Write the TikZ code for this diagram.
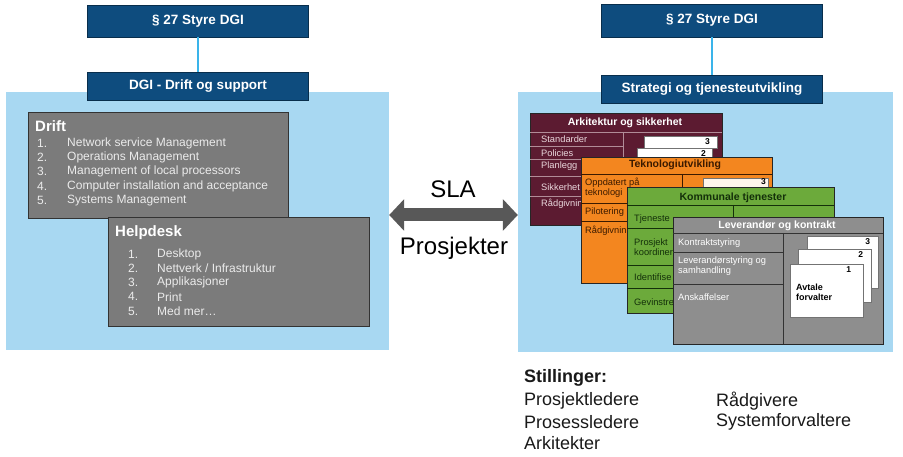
\documentclass[tikz,border=0pt]{standalone}
\usepackage{fontspec}
\setmainfont{Liberation Sans}
\usetikzlibrary{arrows.meta}
\definecolor{dgiblue}{HTML}{0E4C7E}
\definecolor{panelblue}{HTML}{A8D8F2}
\definecolor{linkcyan}{HTML}{3AB4EA}
\definecolor{boxgray}{HTML}{7B7B7B}
\definecolor{cardmaroon}{HTML}{5C1B31}
\definecolor{cardorange}{HTML}{F3861F}
\definecolor{cardgreen}{HTML}{6CAA3B}
\definecolor{cardgray}{HTML}{8E8E8E}
\definecolor{arrowgray}{HTML}{585858}
\definecolor{maroontext}{HTML}{EAD8DD}
\definecolor{orangetext}{HTML}{3B1A00}
\definecolor{greentext}{HTML}{14300A}

\begin{document}
\begin{tikzpicture}[x=1pt,y=-1pt,
  govbox/.style={fill=dgiblue, draw=dgiblue!60!black, text=white, font=\bfseries\fontsize{13.5}{15}\selectfont, minimum width=221, inner sep=0pt},
  panel/.style={fill=panelblue, inner sep=0pt},
  greybox/.style={fill=boxgray, draw=black!80, line width=0.8pt, inner sep=0pt},
  boxhead/.style={anchor=west, text=white, font=\bfseries\fontsize{15}{18}\selectfont, inner sep=0pt},
  boxitem/.style={anchor=west, text=white!92!black, font=\fontsize{12}{14}\selectfont, inner sep=0pt},
  link/.style={linkcyan, line width=1.6pt},
  card/.style={draw=black!85, line width=0.8pt, inner sep=0pt},
  cardhead/.style={font=\bfseries\fontsize{10.5}{12}\selectfont, inner sep=0pt},
  cardrow/.style={anchor=west, align=left, font=\fontsize{9.3}{9.8}\selectfont, inner sep=0pt},
  cardline/.style={line width=0.7pt},
  paper/.style={fill=white, draw=black!55, line width=0.5pt, inner sep=0pt},
  papernum/.style={font=\bfseries\fontsize{8.5}{10}\selectfont, inner sep=0pt},
  slaarrow/.style={arrowgray, line width=13pt, {Triangle[length=15pt,width=31pt]}-{Triangle[length=15pt,width=31pt]}},
  bigtext/.style={anchor=base, font=\fontsize{24}{28}\selectfont, inner sep=0pt},
  jobtext/.style={anchor=west, text=black!90, font=\fontsize{18}{21}\selectfont, inner sep=0pt}
]
\useasboundingbox (0,0) rectangle (903,457);

\node[panel, minimum width=383, minimum height=258] (lpanel) at (197.5,221) {};
\node[govbox, minimum height=32] (lstyre) at (198,21) {§ 27 Styre DGI};
\node[govbox, minimum height=28] (ldgi) at (198,86) {DGI - Drift og support};
\draw[link] (lstyre) -- (ldgi);

\node[greybox, minimum width=260, minimum height=106] (drift) at (158,165) {};
\node[boxhead] (drift head) at (35,126) {Drift};
\foreach \txt [count=\i] in {Network service Management, Operations Management, Management of local processors, Computer installation and acceptance, Systems Management}{
  \node[boxitem] (drift num \i) at (37,128.6+14.4*\i) {\i.};
  \node[boxitem] (drift item \i) at (67,128.6+14.4*\i) {\txt};
}

\node[greybox, minimum width=261, minimum height=109] (helpdesk) at (238.5,271.5) {};
\node[boxhead] (help head) at (115,233) {Helpdesk};
\foreach \txt [count=\i] in {Desktop, Nettverk / Infrastruktur, Applikasjoner, Print, Med mer…}{
  \node[boxitem] (help num \i) at (128,239.75+14.25*\i) {\i.};
  \node[boxitem] (help item \i) at (157,239.75+14.25*\i) {\txt};
}

\node[panel, minimum width=375, minimum height=260] (rpanel) at (705.5,222) {};
\node[govbox, minimum height=33] (rstyre) at (712,20.5) {§ 27 Styre DGI};
\node[govbox, minimum height=28] (rstrategi) at (712,89) {Strategi og tjenesteutvikling};
\draw[link] (rstyre) -- (rstrategi);

\draw[slaarrow] ([yshift=6]lpanel.east) -- ([yshift=7]rpanel.west);
\node[bigtext] (sla) at (453,198) {SLA};
\node[bigtext] (prosjekter) at (454,255) {Prosjekter};

\node[card, fill=cardmaroon, minimum width=192, minimum height=112] (arkitektur) at (626,169) {};
\node[cardhead, text=white] (arkitektur head) at (625,123) {Arkitektur og sikkerhet};
\draw[cardline, draw=maroontext!60!cardmaroon] (530,132) -- (722,132) (623,132) -- (623,225)
  (530,146) -- (623,146) (530,159) -- (623,159) (530,176) -- (623,176) (530,196) -- (623,196);
\node[cardrow, text=maroontext] (ark row 1) at (541,139) {Standarder};
\node[cardrow, text=maroontext] (ark row 2) at (541,153) {Policies};
\node[cardrow, text=maroontext] (ark row 3) at (541,166) {Planlegg};
\node[cardrow, text=maroontext] (ark row 4) at (541,187) {Sikkerhet};
\node[cardrow, text=maroontext] (ark row 5) at (541,204) {Rådgivnin};
\node[paper, minimum width=73, minimum height=12] (ark paper 3) at (680.5,142) {};
\node[papernum, anchor=east] (ark num 3) at (710,142) {3};
\node[paper, minimum width=75, minimum height=12] (ark paper 2) at (674.5,154) {};
\node[papernum, anchor=east] (ark num 2) at (706,154) {2};

\node[card, fill=cardorange, minimum width=191, minimum height=126] (teknologi) at (676.5,220) {};
\node[cardhead, text=orangetext] (teknologi head) at (675,165) {Teknologiutvikling};
\draw[cardline, draw=orangetext] (581,174) -- (772,174) (682,174) -- (682,283)
  (581,203) -- (682,203) (581,221) -- (682,221);
\node[cardrow, text=orangetext] (tek row 1) at (585,188) {Oppdatert på\\teknologi};
\node[cardrow, text=orangetext] (tek row 2) at (585,212) {Pilotering};
\node[cardrow, text=orangetext] (tek row 3) at (585,231) {Rådgivnin};
\node[paper, fill=orange!8, minimum width=65, minimum height=12] (tek paper 3) at (735.5,184) {};
\node[papernum, anchor=east] (tek num 3) at (766,182) {3};

\node[card, fill=cardgreen, minimum width=207, minimum height=126] (kommunale) at (730.5,250) {};
\node[cardhead, text=greentext] (kommunale head) at (733,198) {Kommunale tjenester};
\draw[cardline, draw=greentext] (627,205) -- (834,205) (733,205) -- (733,313)
  (627,228) -- (733,228) (627,265) -- (733,265) (627,288) -- (733,288);
\node[cardrow, text=greentext] (kom row 1) at (634,219) {Tjeneste};
\node[cardrow, text=greentext] (kom row 2) at (634,247) {Prosjekt\\koordiner};
\node[cardrow, text=greentext] (kom row 3) at (634,277) {Identifise};
\node[cardrow, text=greentext] (kom row 4) at (634,302) {Gevinstre};

\node[card, fill=cardgray, minimum width=210, minimum height=127] (leverandor) at (778,280.5) {};
\node[cardhead, text=white] (leverandor head) at (777,226) {Leverandør og kontrakt};
\draw[cardline, draw=black!80] (673,233) -- (883,233) (783,233) -- (783,344)
  (673,252) -- (783,252) (673,284) -- (783,284);
\node[cardrow, text=white] (lev row 1) at (678,243) {Kontraktstyring};
\node[cardrow, text=white] (lev row 2) at (678,266) {Leverandørstyring og\\samhandling};
\node[cardrow, text=white] (lev row 3) at (678,297) {Anskaffelser};
\node[paper, minimum width=71, minimum height=52] (lev paper 3) at (842.5,262) {};
\node[papernum, anchor=north east] (lev num 3) at ([xshift=-8,yshift=-3]lev paper 3.north east) {3};
\node[paper, minimum width=73, minimum height=53] (lev paper 2) at (834.5,275.5) {};
\node[papernum, anchor=north east] (lev num 2) at ([xshift=-8,yshift=-3]lev paper 2.north east) {2};
\node[paper, minimum width=73, minimum height=53] (lev paper 1) at (826.5,290.5) {};
\node[papernum, anchor=north east] (lev num 1) at ([xshift=-12,yshift=-3]lev paper 1.north east) {1};
\node[cardrow, font=\bfseries\fontsize{9}{10}\selectfont] (avtale) at (796,292) {Avtale\\forvalter};

\node[jobtext, font=\bfseries\fontsize{18}{21}\selectfont] (stillinger) at (524,378) {Stillinger:};
\node[jobtext] (job 1) at (524,401) {Prosjektledere};
\node[jobtext] (job 2) at (524,422) {Prosessledere};
\node[jobtext] (job 3) at (524,443) {Arkitekter};
\node[jobtext] (job 4) at (716,401) {Rådgivere};
\node[jobtext] (job 5) at (716,422) {Systemforvaltere};
\end{tikzpicture}
\end{document}
